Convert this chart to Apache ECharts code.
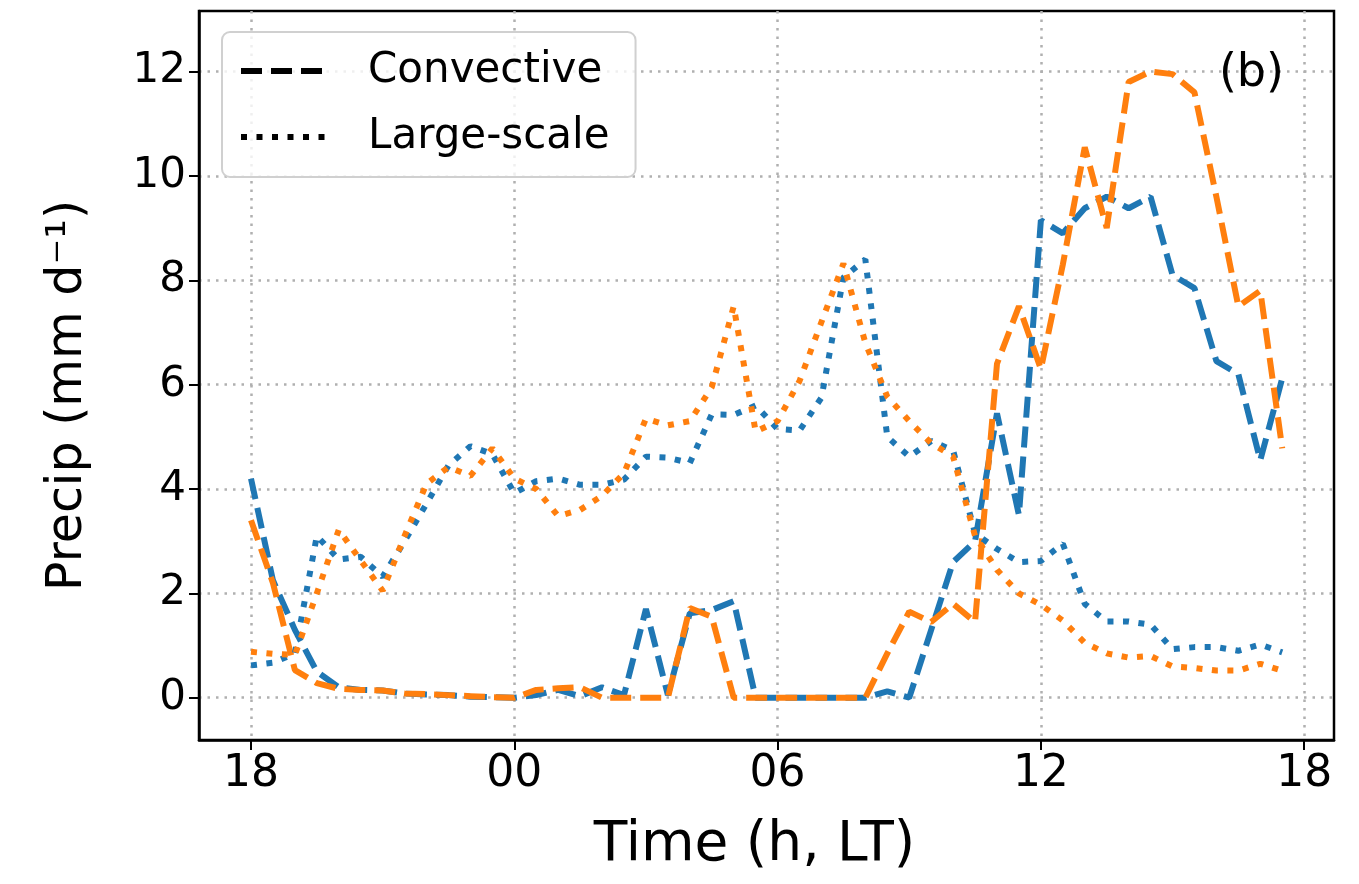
<!DOCTYPE html>
<html>
<head>
<meta charset="utf-8">
<script src="https://cdn.jsdelivr.net/npm/echarts@6/dist/echarts.min.js"></script>
<style>
html, body { margin: 0; padding: 0; background: #fff; }
#chart { width: 1359px; height: 884px; }
</style>
</head>
<body>
<div id="chart"></div>
<script>
// hours since 18 LT, half-hourly
var hours = [0, 0.5, 1, 1.5, 2, 2.5, 3, 3.5, 4, 4.5, 5, 5.5, 6, 6.5, 7, 7.5,
    8, 8.5, 9, 9.5, 10, 10.5, 11, 11.5, 12, 12.5, 13, 13.5, 14, 14.5, 15, 15.5,
    16, 16.5, 17, 17.5, 18, 18.5, 19, 19.5, 20, 20.5, 21, 21.5, 22, 22.5, 23, 23.5];

var xTickValues = [0, 6, 12, 18, 24];
var xTickLabels = ['18', '00', '06', '12', '18'];
var yTickValues = [0, 2, 4, 6, 8, 10, 12];

// convective precip (dashed)
var convBlue = [4.2, 2.25, 1.3, 0.5, 0.2, 0.15, 0.14, 0.08, 0.06, 0.05, 0.02, 0.01,
    0.0, 0.05, 0.15, 0.03, 0.2, 0.05, 1.7, 0.05, 1.62, 1.68, 1.85, 0.0,
    0.0, 0.0, 0.0, 0.0, 0.0, 0.12, 0.0, 1.3, 2.6, 3.0, 5.45, 3.5,
    9.15, 8.9, 9.38, 9.6, 9.38, 9.6, 8.1, 7.85, 6.45, 6.2, 4.55, 6.12];
var convOrange = [3.4, 2.2, 0.53, 0.28, 0.17, 0.15, 0.14, 0.08, 0.07, 0.05, 0.03, 0.01,
    0.0, 0.15, 0.18, 0.2, 0.0, 0.0, 0.0, 0.0, 1.72, 1.55, 0.0, 0.0,
    0.0, 0.0, 0.0, 0.0, 0.0, 0.85, 1.65, 1.45, 1.8, 1.45, 6.4, 7.5,
    6.3, 8.3, 10.55, 9.0, 11.8, 12.0, 11.95, 11.6, 9.6, 7.5, 7.8, 4.78];

// large-scale precip (dotted)
var lsBlue = [0.62, 0.67, 0.85, 3.1, 2.65, 2.7, 2.32, 3.0, 3.72, 4.45, 4.82, 4.67,
    3.92, 4.15, 4.2, 4.08, 4.08, 4.18, 4.62, 4.6, 4.5, 5.43, 5.42, 5.6,
    5.15, 5.12, 5.75, 8.05, 8.4, 5.0, 4.62, 4.92, 4.74, 3.15, 2.85, 2.6,
    2.62, 2.95, 1.8, 1.46, 1.46, 1.4, 0.93, 0.97, 0.97, 0.9, 1.02, 0.87];
var lsOrange = [0.88, 0.84, 0.82, 2.0, 3.22, 2.63, 2.05, 3.1, 4.1, 4.42, 4.25, 4.78,
    4.2, 4.0, 3.48, 3.6, 3.87, 4.3, 5.35, 5.22, 5.3, 5.95, 7.5, 5.1,
    5.3, 6.07, 7.2, 8.32, 6.8, 5.77, 5.3, 4.88, 4.62, 3.1, 2.45, 2.0,
    1.78, 1.48, 1.05, 0.85, 0.77, 0.8, 0.6, 0.57, 0.52, 0.52, 0.65, 0.52];

var blue = '#1f77b4';
var orange = '#ff7f0e';
var lineW = 6;
var dashed = [21, 9];
var dotted = [6, 9.5];
var fontFam = 'DejaVu Sans';

function pairs(vals) {
    return hours.map(function (h, k) { return [h, vals[k]]; });
}

function lineSeries(name, color, vals, dash) {
    return {
        name: name,
        type: 'line',
        data: pairs(vals),
        symbol: 'none',
        silent: true,
        animation: false,
        lineStyle: { color: color, width: lineW, type: dash, cap: 'butt' },
        itemStyle: { color: color }
    };
}

var chart = echarts.init(document.getElementById('chart'));

var option = {
    backgroundColor: '#ffffff',
    animation: false,
    title: {
        text: '(b)',
        right: 70,
        top: 46,
        textStyle: { fontFamily: fontFam, fontSize: 46, fontWeight: 'normal', color: '#000' }
    },
    legend: {
        orient: 'vertical',
        left: 222,
        top: 32,
        padding: [16, 26, 17, 16],
        itemGap: 20,
        itemWidth: 90,
        itemHeight: 20,
        backgroundColor: 'rgba(255,255,255,0.8)',
        borderColor: '#d0d0d0',
        borderWidth: 2,
        borderRadius: 8,
        itemStyle: { color: 'transparent', opacity: 0, borderWidth: 0 },
        lineStyle: { width: lineW, color: '#000' },
        data: ['Convective', 'Large-scale'],
        textStyle: {
            fontFamily: fontFam, fontSize: 42, color: '#000',
            padding: [0, 0, 0, 32], lineHeight: 46
        }
    },
    grid: {
        left: 199, right: 25, top: 11, bottom: 144,
        show: true, borderColor: '#000', borderWidth: 2.5,
        backgroundColor: 'transparent'
    },
    xAxis: {
        type: 'value',
        min: -1.185,
        max: 24.68,
        name: 'Time (h, LT)',
        nameLocation: 'middle',
        nameGap: 78,
        nameTextStyle: { fontFamily: fontFam, fontSize: 55, color: '#000', padding: [0, 24, 0, 0] },
        axisLine: { show: true, onZero: false, lineStyle: { color: '#000', width: 2.5 } },
        axisTick: {
            show: true, length: 10, inside: false,
            customValues: xTickValues,
            lineStyle: { color: '#000', width: 2 }
        },
        axisLabel: {
            customValues: xTickValues,
            margin: 13,
            fontFamily: fontFam, fontSize: 44, color: '#000',
            formatter: function (v) {
                var k = xTickValues.indexOf(v);
                return k >= 0 ? xTickLabels[k] : '';
            }
        },
        splitLine: {
            show: true,
            lineStyle: { color: '#b0b0b0', width: 2.5, type: [2.5, 6] }
        }
    },
    yAxis: {
        type: 'value',
        min: -0.81,
        max: 13.16,
        name: 'Precip (mm d\u207B\u00B9)',
        nameLocation: 'middle',
        nameGap: 106,
        nameRotate: 90,
        nameTextStyle: { fontFamily: fontFam, fontSize: 49, color: '#000', padding: [0, 40, 0, 0] },
        axisLine: { show: true, onZero: false, lineStyle: { color: '#000', width: 2.5 } },
        axisTick: {
            show: true, length: 10, inside: false,
            customValues: yTickValues,
            lineStyle: { color: '#000', width: 2 }
        },
        axisLabel: {
            customValues: yTickValues,
            margin: 13,
            fontFamily: fontFam, fontSize: 42, color: '#000'
        },
        splitLine: {
            show: true,
            lineStyle: { color: '#b0b0b0', width: 2.5, type: [2.5, 6] }
        }
    },
    series: [
        lineSeries('conv1', blue, convBlue, dashed),
        lineSeries('conv2', orange, convOrange, dashed),
        lineSeries('ls1', blue, lsBlue, dotted),
        lineSeries('ls2', orange, lsOrange, dotted),
        {
            name: 'Convective', type: 'line', data: [], symbol: 'none',
            lineStyle: { color: '#000', width: lineW, type: dashed, cap: 'butt' },
            itemStyle: { color: '#000' }
        },
        {
            name: 'Large-scale', type: 'line', data: [], symbol: 'none',
            lineStyle: { color: '#000', width: lineW, type: dotted, cap: 'butt' },
            itemStyle: { color: '#000' }
        }
    ]
};

chart.setOption(option);
</script>
</body>
</html>
